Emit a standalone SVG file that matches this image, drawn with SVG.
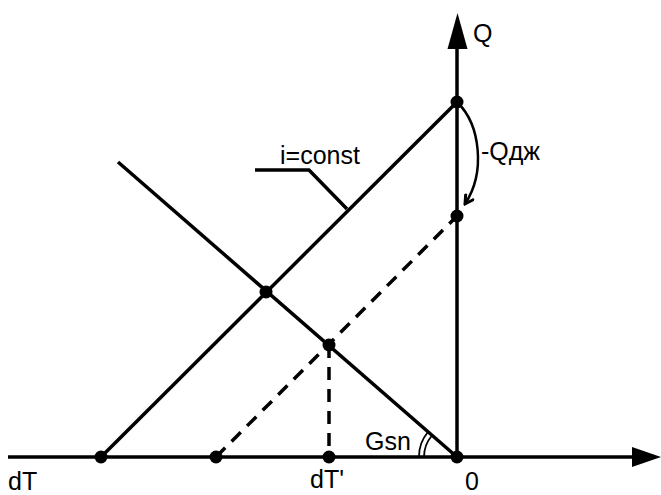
<svg xmlns="http://www.w3.org/2000/svg" width="661" height="495" viewBox="0 0 661 495">
<defs>
<style>
.ln{stroke:#000;stroke-width:3.5;fill:none;stroke-linecap:butt}
.dash{stroke:#000;stroke-width:3.5;fill:none;stroke-dasharray:13 9}
.thin{stroke:#000;stroke-width:2.5;fill:none}
.arc{stroke:#000;stroke-width:1.8;fill:none}
.dot{fill:#000}
text{font-family:"Liberation Sans",Arial,sans-serif;font-size:25px;fill:#000}
</style>
<marker id="ah" viewBox="0 0 12 12" refX="10" refY="6" markerWidth="12" markerHeight="12" markerUnits="userSpaceOnUse" orient="auto">
<path d="M1,1 L10,6 L1,11" fill="none" stroke="#000" stroke-width="3"/>
</marker>
</defs>
<rect width="661" height="495" fill="#fff"/>
<g id="connectors">
<line class="ln" x1="8" y1="457" x2="636" y2="457"/>
<polygon points="661,457 632,447 632,467" fill="#000"/>
<line class="ln" x1="457" y1="457" x2="457" y2="46"/>
<polygon points="457.5,13 447.5,49 467.5,49" fill="#000"/>
<line class="ln" x1="101" y1="457" x2="457" y2="102"/>
<line class="ln" x1="118" y1="162" x2="457" y2="457"/>
<line class="dash" x1="216" y1="457" x2="457" y2="216"/>
<line class="dash" x1="329" y1="345" x2="329" y2="457"/>
<polyline class="ln" points="255,170 309,170 347,209"/>
<path class="thin" d="M458,103 C480,125 486,172 465,204" marker-end="url(#ah)"/>
<path class="arc" d="M424,457 A33,33 0 0 1 432,435.5"/>
<path class="arc" d="M419,457 A38,38 0 0 1 428,432"/>
</g>
<g id="dots">
<circle class="dot" cx="457" cy="102" r="6.5"/>
<circle class="dot" cx="457" cy="216" r="6.5"/>
<circle class="dot" cx="457" cy="457" r="6.5"/>
<circle class="dot" cx="101" cy="457" r="6.5"/>
<circle class="dot" cx="216" cy="457" r="6.5"/>
<circle class="dot" cx="329" cy="457" r="6.5"/>
<circle class="dot" cx="266" cy="292" r="6.5"/>
<circle class="dot" cx="329" cy="345" r="6.5"/>
</g>
<g id="labels">
<text x="473" y="42">Q</text>
<text x="481" y="160">-Qдж</text>
<text x="280" y="164">i=const</text>
<text x="365" y="450">Gsn</text>
<text x="310" y="488">dT'</text>
<text x="465" y="490">0</text>
<text x="8" y="490">dT</text>
</g>
</svg>
